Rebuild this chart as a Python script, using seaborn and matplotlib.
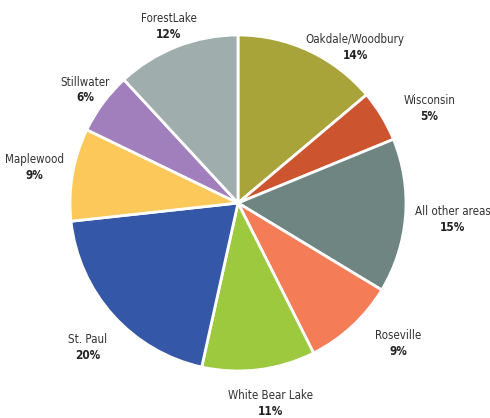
import numpy as np
import matplotlib
matplotlib.use("Agg")
import matplotlib.pyplot as plt
import seaborn as sns

# data, clockwise from 12 o'clock
areas = ["Oakdale/Woodbury", "Wisconsin", "All other areas", "Roseville",
         "White Bear Lake", "St. Paul", "Maplewood", "Stillwater", "ForestLake"]
shares = [14, 5, 15, 9, 11, 20, 9, 6, 12]
colors = ["#a8a43a", "#cc5530", "#6e8582", "#f47c56", "#9dc93e",
          "#3557a8", "#fdc85a", "#a17fbc", "#9fadad"]

# label placement: (angle nudge in degrees, distance in radii)
label_pos = [(-12, 1.16), (-5, 1.27), (0, 1.28), (6, 1.27), (2, 1.21),
             (2, 1.24), (0, 1.23), (0, 1.13), (0, 1.13)]

sns.set_theme(style="white")
plt.rcParams["font.family"] = ["DejaVu Sans"]
plt.rcParams["font.stretch"] = "condensed"

fig = plt.figure(figsize=(4.9, 4.18), dpi=100)
ax = fig.add_axes([0, 0, 1, 1])

wedges, _ = ax.pie(shares, colors=colors, startangle=90, counterclock=False,
                   wedgeprops=dict(edgecolor="white", linewidth=2))

for w, name, pct, (nudge, dist) in zip(wedges, areas, shares, label_pos):
    ang = np.deg2rad((w.theta1 + w.theta2) / 2 + nudge)
    x, y = dist * np.cos(ang), dist * np.sin(ang)
    ax.text(x, y + 0.047, name, ha="center", va="center", fontsize=8.3,
            fontstretch="condensed", color="#333333")
    ax.text(x, y - 0.047, f"{pct}%", ha="center", va="center", fontsize=8.5,
            fontstretch="condensed", fontweight="bold", color="#222222")

r = 168
ax.set_xlim(-238 / r, (490 - 238) / r)
ax.set_ylim(-215 / r, 203 / r)
ax.set_aspect("auto")
ax.axis("off")

fig.savefig("out.png", dpi=100, facecolor="white")
